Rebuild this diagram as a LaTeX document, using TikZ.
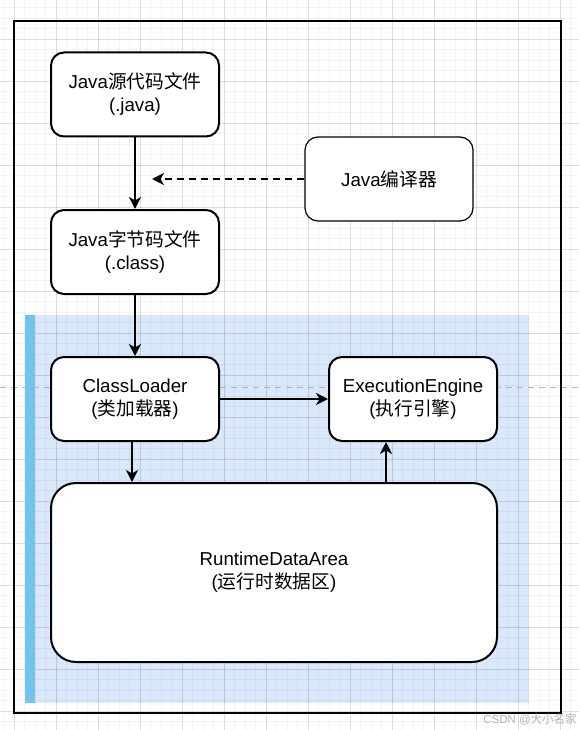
\documentclass[tikz,border=0pt]{standalone}
\usepackage{fontspec}
\setmainfont{Liberation Sans}
\newfontfamily\cjk{Noto Sans CJK SC}
\usetikzlibrary{arrows.meta,positioning,calc}
\newcommand{\zh}[1]{{\cjk #1}}
\definecolor{areablue}{RGB}{218,232,252}
\definecolor{barblue}{RGB}{115,196,236}

\begin{document}
\begin{tikzpicture}[x=1pt,y=-1pt,>={Stealth[length=12pt,width=12pt,inset=3.5pt]},
  box/.style={draw,line width=2pt,rounded corners=13pt,fill=white,align=center,
    minimum width=168pt,minimum height=84pt,font=\fontsize{18.7}{23}\selectfont},
  gridminor/.style={black,opacity=0.045,line width=0.8pt},
  gridmajor/.style={black,opacity=0.09,line width=0.8pt},
  arr/.style={->,line width=2pt}]
\useasboundingbox (0,0) rectangle (579,730);
\fill[white] (0,0) rectangle (579,730);
% runtime area
\fill[areablue] (25,315) rectangle (529,703);
% grid
\foreach \gx in {3.5,14,...,579} \draw[gridminor] (\gx,0) -- (\gx,730);
\foreach \gy in {7.5,18,...,730} \draw[gridminor] (0,\gy) -- (579,\gy);
\foreach \gx in {14,56,...,579} \draw[gridmajor] (\gx,0) -- (\gx,730);
\foreach \gy in {39,81,...,730} \draw[gridmajor] (0,\gy) -- (579,\gy);
\fill[barblue] (25,315) rectangle (35,703);
\draw[black!30,line width=1pt,dash pattern=on 6pt off 5pt] (0,387) -- (579,387);
\draw[line width=2.3pt] (14,21) rectangle (561,713);

\node[box] (src) at (135,94.5) {Java\zh{源代码文件}\\(.java)};
\node[box] (bc) at (135,252) {Java\zh{字节码文件}\\(.class)};
\node[box,line width=1.2pt] (comp) at (389,179) {Java\zh{编译器}};
\node[box] (cl) at (135,399) {ClassLoader\\(\zh{类加载器})};
\node[box] (ee) at (413,399) {ExecutionEngine\\(\zh{执行引擎})};
\node[box,rounded corners=25pt,minimum width=446pt,minimum height=179pt] (rda) at (274,572.5) {RuntimeDataArea\\(\zh{运行时数据区})};
\coordinate (cend) at (152,179);
\coordinate (lx) at (132,0);
\coordinate (rx) at (386,0);

\draw[arr] (src) -- (bc);
\draw[arr,dash pattern=on 7pt off 5pt] (comp.west) -- (cend);
\draw[arr] (bc) -- (cl);
\draw[arr] (cl) -- (ee);
\draw[arr] (cl.south -| lx) -- (rda.north -| lx);
\draw[arr] (rda.north -| rx) -- (ee.south -| rx);

\node[text=black!30,font=\fontsize{11.5}{14}\selectfont,inner sep=1pt] (wm) at (530,719) {CSDN @\zh{大小名家}};
\end{tikzpicture}
\end{document}
